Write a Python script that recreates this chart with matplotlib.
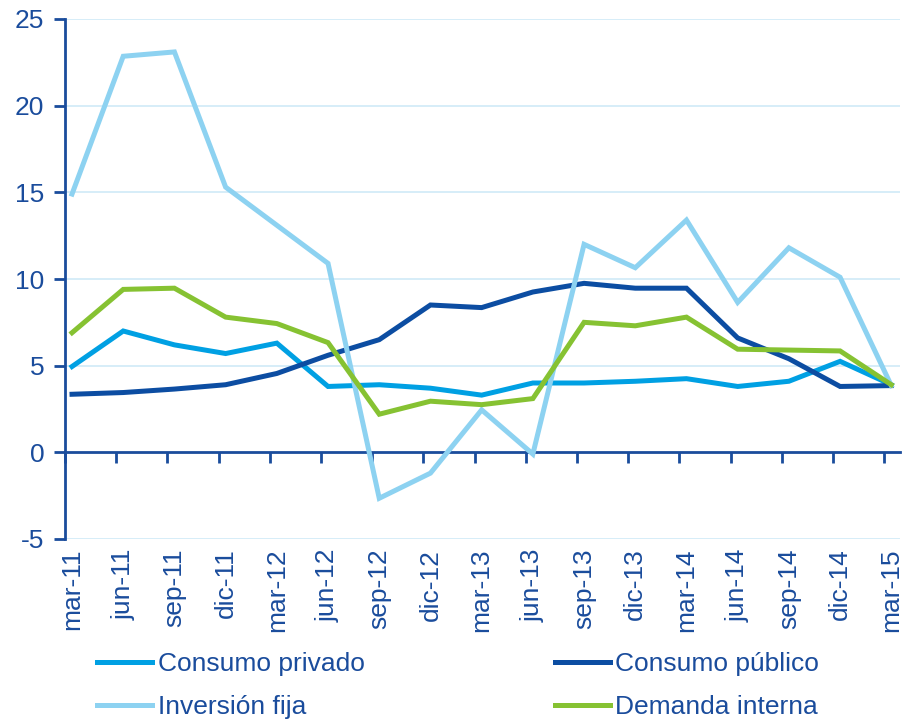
import numpy as np
import matplotlib; matplotlib.use("Agg")
import matplotlib.pyplot as plt

plt.rcParams['font.family'] = ['Liberation Sans', 'DejaVu Sans']
plt.rcParams['axes.unicode_minus'] = False

quarters = ["mar-11", "jun-11", "sep-11", "dic-11", "mar-12", "jun-12", "sep-12", "dic-12",
            "mar-13", "jun-13", "sep-13", "dic-13", "mar-14", "jun-14", "sep-14", "dic-14", "mar-15"]
consumo_privado = [4.95, 7.0, 6.2, 5.7, 6.3, 3.8, 3.9, 3.7, 3.3, 4.0, 4.0, 4.1, 4.25, 3.8, 4.1, 5.25, 3.9]
consumo_publico = [3.35, 3.45, 3.65, 3.9, 4.55, 5.6, 6.5, 8.5, 8.35, 9.25, 9.75, 9.47, 9.47, 6.6, 5.4, 3.8, 3.85]
inversion_fija = [14.9, 22.85, 23.1, 15.3, 13.1, 10.9, -2.65, -1.2, 2.45, -0.1, 12.0, 10.65, 13.4, 8.65, 11.8, 10.1, 3.85]
demanda_interna = [6.9, 9.4, 9.47, 7.8, 7.43, 6.33, 2.2, 2.95, 2.75, 3.1, 7.5, 7.3, 7.8, 5.95, 5.9, 5.85, 3.9]

TXT = "#1A4C9C"
series = [("Consumo privado", consumo_privado, "#00A0E3"),
          ("Consumo público", consumo_publico, "#0C4DA2"),
          ("Inversión fija", inversion_fija, "#8DD2F1"),
          ("Demanda interna", demanda_interna, "#86C232")]

fig = plt.figure(figsize=(9.04, 7.21), dpi=100)
ax = fig.add_axes([65/904, 1-539/721, 835/904, 520/721])
x = np.arange(len(quarters))
lines = []
for name, vals, col in series:
    l, = ax.plot(x, vals, color=col, lw=3.6, label=name, solid_joinstyle="miter", zorder=3)
    lines.append(l)

off = 0.137
ax.set_xlim(-off, len(quarters) - 1 + 0.17)
ax.set_ylim(-5, 25)
ax.set_yticks(range(-5, 26, 5))
for v in range(-5, 26, 5):
    if v != 0:
        ax.axhline(v, color="#CFEAF7", lw=1.2, zorder=1)

for s in ["top", "right", "bottom"]:
    ax.spines[s].set_visible(False)
ax.spines["left"].set_color(TXT)
ax.spines["left"].set_linewidth(2)
ax.tick_params(axis="y", colors=TXT, labelcolor=TXT, labelsize=19, length=8, width=2, pad=7)

ax.set_xticks(x)
ax.set_xticklabels(quarters, rotation=90)
ax.tick_params(axis="x", length=0, pad=7, labelsize=19, labelcolor=TXT)

zero = ax.secondary_xaxis(5/30)
zero.set_xticks(x - off)
zero.set_xticklabels([])
zero.spines["bottom"].set_color(TXT)
zero.spines["bottom"].set_linewidth(2)
zero.tick_params(axis="x", direction="out", length=8, width=2, color=TXT)

# legend is filled column-wise, so order handles to read row by row
order = [0, 2, 1, 3]
fig.legend([lines[i] for i in order], [series[i][0] for i in order], loc="lower left",
           bbox_to_anchor=(0.081, -0.030), ncol=2, frameon=False, fontsize=19, labelcolor=TXT,
           handlelength=2.1, handletextpad=0.2, columnspacing=7.2, labelspacing=0.72)

fig.savefig("out.png", dpi=100)
